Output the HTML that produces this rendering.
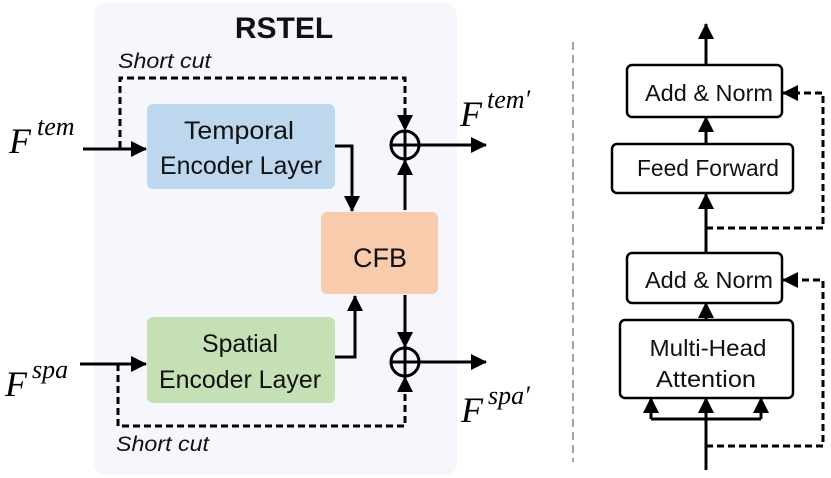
<!DOCTYPE html>
<html><head><meta charset="utf-8"><style>
html,body{margin:0;padding:0;background:#fff;width:831px;height:478px;overflow:hidden}
svg{display:block}
.s{font-family:"Liberation Sans",sans-serif}
.m{font-family:"Liberation Serif",serif;font-style:italic}
</style></head><body>
<svg width="831" height="478" viewBox="0 0 831 478" xmlns="http://www.w3.org/2000/svg">
<defs>
<marker id="b" markerWidth="16" markerHeight="16" refX="15" refY="8" orient="auto" markerUnits="userSpaceOnUse"><path d="M0,0 L16,8 L0,16 z" fill="#000"/></marker>
</defs>
<rect x="94" y="3" width="363" height="472" rx="12" fill="#f5f7fc"/>
<text x="284" y="38" text-anchor="middle" class="s" font-weight="bold" font-size="30" fill="#111">RSTEL</text>
<g lengthAdjust="spacingAndGlyphs">
<text x="118" y="68" class="s" font-style="italic" font-size="21" fill="#111" textLength="93" lengthAdjust="spacingAndGlyphs">Short cut</text>
<text x="116" y="451" class="s" font-style="italic" font-size="21" fill="#111" textLength="93" lengthAdjust="spacingAndGlyphs">Short cut</text>
</g>
<rect x="147" y="104" width="188" height="85" rx="6" fill="#bdd7ee"/>
<text x="239" y="139" text-anchor="middle" class="s" font-size="25" fill="#111" textLength="110" lengthAdjust="spacingAndGlyphs">Temporal</text>
<text x="241" y="174" text-anchor="middle" class="s" font-size="25" fill="#111" textLength="162" lengthAdjust="spacingAndGlyphs">Encoder Layer</text>
<rect x="147" y="317" width="188" height="86" rx="6" fill="#c5e0b4"/>
<text x="240" y="352" text-anchor="middle" class="s" font-size="25" fill="#111" textLength="76" lengthAdjust="spacingAndGlyphs">Spatial</text>
<text x="240" y="388" text-anchor="middle" class="s" font-size="25" fill="#111" textLength="162" lengthAdjust="spacingAndGlyphs">Encoder Layer</text>
<rect x="321" y="212" width="117" height="82" rx="6" fill="#f8cbad"/>
<text x="380" y="267" text-anchor="middle" class="s" font-size="27" fill="#111">CFB</text>
<g stroke="#000" stroke-width="3" fill="none">
<path d="M83,149 H146" marker-end="url(#b)"/>
<path d="M80,364 H146" marker-end="url(#b)"/>
<path d="M335,146 H352 V211" marker-end="url(#b)"/>
<path d="M335,357 H355 V296" marker-end="url(#b)"/>
<path d="M405,210 V160" marker-end="url(#b)"/>
<path d="M405,295 V347" marker-end="url(#b)"/>
<path d="M420,145 H486" marker-end="url(#b)"/>
<path d="M420,362 H486" marker-end="url(#b)"/>
<path d="M120,148 V78 H405 V130" stroke-dasharray="7,4" marker-end="url(#b)"/>
<path d="M118,364 V426 H405 V377" stroke-dasharray="7,4" marker-end="url(#b)"/>
<circle cx="405" cy="145" r="14"/>
<path d="M391,145 H419 M405,131 V159"/>
<circle cx="405" cy="362" r="14"/>
<path d="M391,362 H419 M405,348 V376"/>
</g>
<text x="9" y="153" class="m" font-size="36">F</text>
<text x="37" y="135" class="m" font-size="26">tem</text>
<text x="5" y="396" class="m" font-size="36">F</text>
<text x="32" y="378" class="m" font-size="26">spa</text>
<text x="460" y="126" class="m" font-size="36">F</text>
<text x="487" y="108" class="m" font-size="26">tem′</text>
<text x="461" y="422" class="m" font-size="36">F</text>
<text x="488" y="404" class="m" font-size="26">spa′</text>
<line x1="573" y1="42" x2="573" y2="462" stroke="#666" stroke-width="1.2" stroke-dasharray="8,5"/>
<g stroke="#000" stroke-width="2.5" fill="#fff">
<rect x="627" y="65" width="155" height="52" rx="5"/>
<rect x="612" y="144" width="181" height="49" rx="5"/>
<rect x="627" y="253" width="155" height="50" rx="5"/>
<rect x="620" y="320" width="173" height="78" rx="5"/>
</g>
<g class="s" font-size="23" fill="#111" text-anchor="middle">
<text x="709" y="101" textLength="128" lengthAdjust="spacingAndGlyphs">Add &amp; Norm</text>
<text x="708" y="176" textLength="142" lengthAdjust="spacingAndGlyphs">Feed Forward</text>
<text x="709" y="288" textLength="128" lengthAdjust="spacingAndGlyphs">Add &amp; Norm</text>
<text x="708" y="356" textLength="117" lengthAdjust="spacingAndGlyphs">Multi-Head</text>
<text x="706" y="387" textLength="100" lengthAdjust="spacingAndGlyphs">Attention</text>
</g>
<g stroke="#000" stroke-width="3" fill="none">
<path d="M706,65 V24" marker-end="url(#b)"/>
<path d="M706,144 V117" marker-end="url(#b)"/>
<path d="M706,253 V194" marker-end="url(#b)"/>
<path d="M706,320 V303" marker-end="url(#b)"/>
<path d="M706,470 V398" marker-end="url(#b)"/>
<path d="M651,419 H761"/>
<path d="M651,419 V398" marker-end="url(#b)"/>
<path d="M761,419 V398" marker-end="url(#b)"/>
<path d="M706,228 H823 V93 H783" stroke-dasharray="7,4" marker-end="url(#b)"/>
<path d="M706,446 H823 V280 H783" stroke-dasharray="7,4" marker-end="url(#b)"/>
</g>
</svg>
</body></html>
